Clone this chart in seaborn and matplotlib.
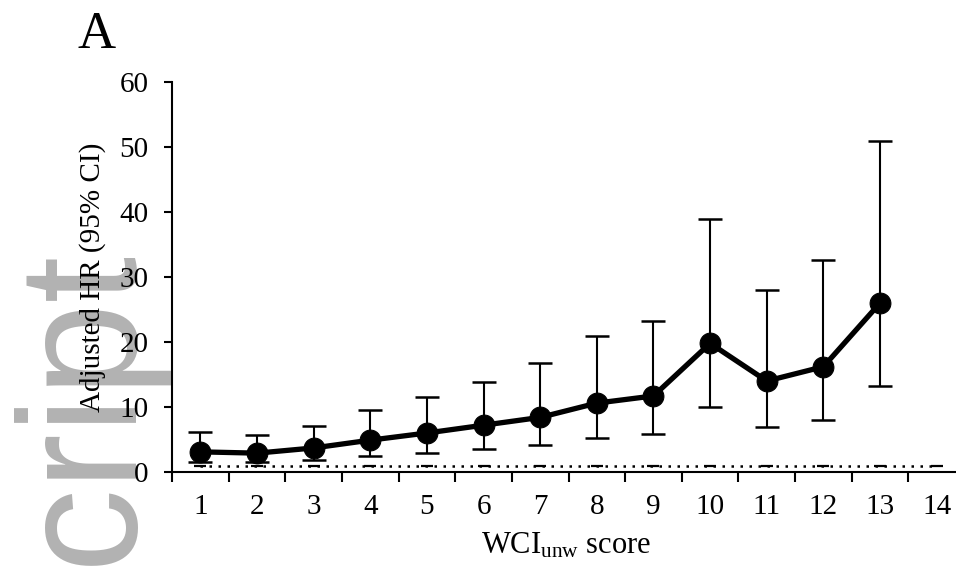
import numpy as np
import pandas as pd
import matplotlib
matplotlib.use("Agg")
import matplotlib.pyplot as plt
import seaborn as sns

# ---- data ----
scores = [1, 2, 3, 4, 5, 6, 7, 8, 9, 10, 11, 12, 13]
hr = [3.1, 2.9, 3.7, 4.9, 6.0, 7.2, 8.4, 10.6, 11.7, 19.8, 14.0, 16.2, 26.0]
ci_low = [1.6, 1.5, 1.8, 2.5, 3.0, 3.6, 4.2, 5.3, 5.9, 10.0, 7.0, 8.0, 13.2]
ci_high = [6.1, 5.7, 7.1, 9.5, 11.5, 13.9, 16.7, 20.9, 23.3, 39.0, 28.0, 32.6, 50.9]
ref_x = [1, 2, 3, 4, 5, 6, 7, 8, 9, 10, 11, 12, 13, 14]
ref_y = [1, 1, 1, 1, 1, 1, 1, 1, 1, 1, 1, 1, 1, 1]
xtick_labels = ["1", "2", "3", "4", "5", "6", "7", "8", "9", "10", "11", "12", "13", "14"]
yticks = [0, 10, 20, 30, 40, 50, 60]

sns.set_theme(style="white")
plt.rcParams["font.family"] = ["Liberation Serif", "DejaVu Serif"]
plt.rcParams["mathtext.fontset"] = "custom"
plt.rcParams["mathtext.rm"] = "Liberation Serif"
plt.rcParams["mathtext.it"] = "Liberation Serif:italic"

df = pd.DataFrame({"score": scores, "hr": hr, "lo": ci_low, "hi": ci_high})
ref = pd.DataFrame({"x": ref_x, "y": ref_y})

fig = plt.figure(figsize=(9.56, 5.71), dpi=100)
fig.patch.set_facecolor("white")

# background watermark
fig.text(130 / 956, 1 - 565 / 571, "cript", rotation=90, rotation_mode="anchor",
         ha="left", va="baseline", fontsize=121, color="#b2b2b2",
         family=["Liberation Sans", "DejaVu Sans"], zorder=-5)

ax = fig.add_axes([172 / 956, 1 - 472 / 571, (965 - 172) / 956, (472 - 82) / 571])
ax.patch.set_alpha(0)

# reference line at HR = 1
sns.lineplot(data=ref, x="x", y="y", ax=ax, color="black", linewidth=1.8,
             linestyle=(0, (1, 2.6)), marker="_", markersize=9,
             markeredgewidth=1.6, markeredgecolor="black", zorder=1)

# error bars
yerr = np.vstack([df["hr"] - df["lo"], df["hi"] - df["hr"]])
ax.errorbar(df["score"], df["hr"], yerr=yerr, fmt="none", ecolor="black",
            elinewidth=1.5, capsize=8.5, capthick=1.8, zorder=2)

# main line
sns.lineplot(data=df, x="score", y="hr", ax=ax, color="black", linewidth=3.8,
             marker="o", markersize=15, markeredgecolor="black",
             markerfacecolor="black", zorder=3)

ax.set_xlim(0.5, 14.5)
ax.set_ylim(0, 60)
ax.set_yticks(yticks)
ax.set_yticklabels([str(v) for v in yticks])

ax.set_xticks(np.arange(0.5, 15.0, 1.0))
ax.set_xticklabels([])
ax.set_xticks(ref_x, minor=True)
ax.set_xticklabels(xtick_labels, minor=True)

ax.tick_params(axis="x", which="major", direction="out", length=7, width=1.5,
               color="black", bottom=True)
ax.tick_params(axis="x", which="minor", length=0, pad=16, labelsize=21,
               labelcolor="black", bottom=True)
ax.tick_params(axis="y", which="major", direction="out", length=6, width=1.5,
               color="black", pad=11, labelsize=21, labelcolor="black", left=True)

for s in ["top", "right"]:
    ax.spines[s].set_visible(False)
for s in ["left", "bottom"]:
    ax.spines[s].set_color("black")
    ax.spines[s].set_linewidth(1.5)

ax.set_xlabel(r"WCI$_{\mathrm{unw}}$ score", fontsize=22, color="black")
ax.set_ylabel("Adjusted HR (95% CI)", fontsize=21, color="black")
ax.xaxis.set_label_coords(0.497, -0.15)
ax.yaxis.set_label_coords(-0.083, 0.5)

fig.text(77 / 956, 1 - 48 / 571, "A", fontsize=38, ha="left", va="baseline",
         color="black")

fig.savefig("out.png", dpi=100, facecolor="white")
